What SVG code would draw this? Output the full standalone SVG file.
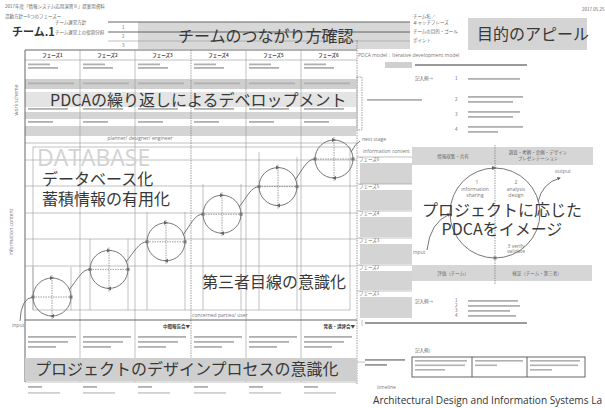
<svg xmlns="http://www.w3.org/2000/svg" width="605" height="408" viewBox="0 0 605 408">
<style>
.big{font-family:"Noto Sans CJK JP","Noto Sans",sans-serif;font-size:16px;fill:#383838}
.t{font-family:"Noto Sans CJK JP","Noto Sans",sans-serif;font-size:4.5px;fill:#666}
.tb{font-family:"Noto Sans CJK JP","Noto Sans",sans-serif;font-size:4.5px;font-weight:bold;fill:#444}
.en{font-family:"Open Sans","Liberation Sans",sans-serif;font-size:5px;fill:#777}
.ln{stroke:#999;stroke-width:0.6;fill:none}
.dk{stroke:#555;stroke-width:0.9;fill:none}
.dash{stroke:#777;stroke-width:0.7;stroke-dasharray:1.5 1;fill:none}
.bar{fill:#b0b0b0}
.band{fill:#d4d4d4}
.band2{fill:#e4e4e4}
.cv{stroke:#666;stroke-width:0.9;fill:none}
</style>
<defs>
<marker id="ah" markerWidth="4" markerHeight="4" refX="3" refY="2" orient="auto"><path d="M0,0 L4,2 L0,4z" fill="#666"/></marker>
<g id="pdca-s">
<circle r="19" class="cv"/>
<line x1="-19" y1="0" x2="19" y2="0" class="dash"/>
<line x1="0" y1="-22" x2="0" y2="22" class="dash"/>
<rect x="-20.5" y="-1.5" width="3" height="3" fill="#777"/>
<rect x="17.5" y="-1.5" width="3" height="3" fill="#777"/>
<path d="M-2,-21 L2,-19 L-2,-17z" fill="#666"/>
<path d="M2,17 L-2,19 L2,21z" fill="#666"/>
</g>
<g id="colbars">
<rect x="3" y="63.5" width="22" height="1.8" class="bar"/>
<rect x="3" y="67" width="30" height="1.8" class="bar"/>
<rect x="3" y="82.5" width="46" height="1.8" class="bar"/>
<rect x="3" y="108" width="40" height="1.8" class="bar"/>
<rect x="3" y="121" width="25" height="1.8" class="bar"/>
<rect x="3" y="336" width="48" height="1.8" class="bar"/>
<rect x="3" y="341" width="40" height="1.8" class="bar"/>
<rect x="3" y="346" width="28" height="1.8" class="bar"/>
<rect x="3" y="386" width="14" height="1.8" class="bar"/>
<rect x="3" y="392" width="32" height="1.8" fill="#d0d0d0"/>
</g>
</defs>
<rect width="605" height="408" fill="#fff"/>

<g id="header">
<text x="5" y="8" class="t">2017年度「情報システム応用演習Ⅱ」提案用資料</text>
<text x="5" y="18" class="t">活動方針ー6つのフェーズー</text>
<text x="582" y="11" class="t">2017.05.25</text>
<text x="12" y="36" style="font-family:'Noto Sans CJK JP',sans-serif;font-size:11px;font-weight:bold;fill:#333">チーム.1</text>
<text x="55" y="24" class="t">チーム運営方針</text>
<text x="55" y="34" class="t">チーム運営上の役割分担</text>
<rect x="138" y="22" width="272" height="27" fill="#d8d8d8"/>
<line x1="108" y1="22" x2="410" y2="22" class="dk"/>
<line x1="108" y1="32" x2="410" y2="32" class="dk"/>
<line x1="108" y1="41" x2="410" y2="41" class="ln"/>
<text x="122" y="29" class="t">1</text>
<text x="122" y="38" class="t">2</text>
<text x="122" y="47" class="t">3</text>
<text x="413" y="18" class="t">チーム名／</text>
<text x="413" y="24" class="t">キャッチフレーズ</text>
<text x="413" y="33" class="t">チームの目的・ゴール</text>
<text x="413" y="42" class="t">ポイント</text>
<text x="178" y="42" class="big">チームのつながり方確認</text>
</g>

<g id="goal">
<rect x="468" y="18" width="119" height="32" fill="#d4d4d4"/>
<text x="477" y="40" class="big">目的のアピール</text>
</g>

<g id="phase-table">
<rect x="25" y="79" width="331" height="10" fill="#cfcfcf"/>
<rect x="25" y="92" width="331" height="15" class="band2"/>
<rect x="25" y="112" width="331" height="7" class="band"/>
<rect x="25" y="126" width="331" height="10" class="band"/>
<line x1="25" y1="50" x2="357" y2="50" class="dk"/>
<line x1="25" y1="60" x2="357" y2="60" class="ln"/>
<line x1="25" y1="143" x2="357" y2="143" class="ln"/>
<line x1="25" y1="50" x2="25" y2="382" class="dk"/>
<line x1="80" y1="50" x2="80" y2="382" class="ln"/>
<line x1="135" y1="50" x2="135" y2="382" class="ln"/>
<line x1="191" y1="50" x2="191" y2="382" class="dash"/>
<line x1="246" y1="50" x2="246" y2="382" class="ln"/>
<line x1="301" y1="50" x2="301" y2="382" class="ln"/>
<line x1="357" y1="40" x2="357" y2="385" class="dash"/>
<text x="52.5" y="57" class="tb" text-anchor="middle">フェーズ1</text>
<text x="107.5" y="57" class="tb" text-anchor="middle">フェーズ2</text>
<text x="162.5" y="57" class="tb" text-anchor="middle">フェーズ3</text>
<text x="218.5" y="57" class="tb" text-anchor="middle">フェーズ4</text>
<text x="273.5" y="57" class="tb" text-anchor="middle">フェーズ5</text>
<text x="328.5" y="57" class="tb" text-anchor="middle">フェーズ6</text>
<use href="#colbars" x="25"/>
<use href="#colbars" x="80"/>
<use href="#colbars" x="135"/>
<use href="#colbars" x="191"/>
<use href="#colbars" x="246"/>
<use href="#colbars" x="301"/>
<text x="18" y="100" class="en" font-size="4.5" text-anchor="middle" transform="rotate(-90 18 100)">work scheme</text>
<text x="140" y="140" class="en" text-anchor="middle">planner/ designer/ engineer</text>
<text x="50" y="106" class="big" font-size="17">PDCAの繰り返しによるデベロップメント</text>
</g>

<g id="info-area">
<text x="13" y="232" class="en" font-size="4.5" text-anchor="middle" transform="rotate(-90 13 232)">information content</text>
<rect x="33" y="147" width="317" height="163" class="ln"/>
<line x1="25" y1="160" x2="357" y2="160" class="ln"/>
<line x1="25" y1="186" x2="357" y2="186" class="ln"/>
<line x1="25" y1="213" x2="357" y2="213" class="ln"/>
<line x1="25" y1="239" x2="357" y2="239" class="ln"/>
<line x1="25" y1="266" x2="357" y2="266" class="ln"/>
<text x="37" y="166" style="font-family:'Open Sans','Liberation Sans',sans-serif;font-size:23px;fill:#d2d2d2">DATABASE</text>
<text x="42" y="185" class="big">データベース化</text>
<text x="42" y="205" class="big">蓄積情報の有用化</text>
<text x="202" y="288" class="big">第三者目線の意識化</text>
<text x="192" y="317" class="en">concerned parties/ user</text>
<line x1="25" y1="320" x2="357" y2="320" class="dk"/>
</g>

<g id="pdca-steps">
<g id="step1"><line x1="33" y1="267" x2="33" y2="310" class="ln"/><line x1="71" y1="267" x2="71" y2="310" class="ln"/><use href="#pdca-s" x="52" y="297"/></g>
<g id="step2"><line x1="90" y1="239" x2="90" y2="310" class="ln"/><line x1="128" y1="239" x2="128" y2="310" class="ln"/><use href="#pdca-s" x="109" y="269.4"/></g>
<g id="step3"><line x1="147" y1="212" x2="147" y2="310" class="ln"/><line x1="185" y1="212" x2="185" y2="310" class="ln"/><use href="#pdca-s" x="166" y="241.8"/></g>
<g id="step4"><line x1="203" y1="184" x2="203" y2="310" class="ln"/><line x1="241" y1="184" x2="241" y2="310" class="ln"/><use href="#pdca-s" x="222" y="214.2"/></g>
<g id="step5"><line x1="259" y1="152" x2="259" y2="310" class="ln"/><line x1="297" y1="157" x2="297" y2="310" class="ln"/><use href="#pdca-s" x="278" y="186.6"/></g>
<g id="step6"><use href="#pdca-s" x="334" y="159"/></g>
</g>

<g id="connectors">
<path d="M20,321 Q21,298 33,297" class="cv"/>
<path d="M69,290 C77,280 82,269 90,269.4" class="cv"/>
<path d="M126,262 C134,252 139,242 147,241.8" class="cv"/>
<path d="M183,235 C191,224 195,214 203,214.2" class="cv"/>
<path d="M239,207 C247,197 251,187 259,186.6" class="cv"/>
<path d="M295,180 C303,169 307,159 315,159" class="cv"/>
<path d="M351,152 Q355,144 360,141" class="cv"/>
<path d="M427,250 Q430,222 450,214" class="cv" marker-end="url(#ah)"/>
<path d="M538,202 Q542,183 560,178" class="cv" marker-end="url(#ah)"/>
</g>

<g id="bottom">
<text x="12" y="327" class="en">input</text>
<text x="190" y="328" class="tb" text-anchor="end">中間報告会▼</text>
<text x="355" y="328" class="tb" text-anchor="end">発表・講評会▼</text>
<rect x="25" y="358" width="332" height="23" fill="#cfcfcf"/>
<text x="35" y="375" class="big">プロジェクトのデザインプロセスの意識化</text>
<line x1="25" y1="382" x2="357" y2="382" class="ln"/>
</g>

<g id="right-panel">
<text x="358" y="57" class="en" font-size="4.5">PDCA model：Iterative development model</text>
<rect x="385" y="62" width="27" height="6" fill="#cfcfcf"/>
<rect x="415" y="64" width="112" height="2" fill="#999"/>
<text x="415" y="80" class="t">記入例→</text>
<text x="455" y="80" class="t">1</text>
<rect x="468" y="78" width="52" height="1.8" class="bar"/>
<rect x="357" y="77" width="5" height="53" class="dash"/>
<rect x="367" y="99" width="55" height="1.8" class="bar"/>
<text x="455" y="101" class="t">2</text>
<rect x="468" y="96" width="55" height="1.8" class="bar"/>
<rect x="468" y="101" width="45" height="1.8" class="bar"/>
<text x="455" y="116" class="t">3</text>
<rect x="468" y="111" width="52" height="1.8" class="bar"/>
<rect x="468" y="116" width="45" height="1.8" class="bar"/>
<text x="455" y="131" class="t">4</text>
<rect x="468" y="126" width="55" height="1.8" class="bar"/>
<rect x="468" y="131" width="30" height="1.8" class="bar"/>
<text x="362" y="141" class="en" font-size="6">next stage</text>
<text x="363" y="153" class="en" font-size="4.5">information content</text>
<line x1="357" y1="157" x2="412" y2="157" class="ln"/>
<text x="359" y="161" class="t">フェーズ6</text>
<rect x="360" y="163" width="52" height="21" fill="#d4d4d4"/>
<line x1="357" y1="184" x2="412" y2="184" class="ln"/>
<text x="359" y="188" class="t">フェーズ5</text>
<rect x="360" y="190" width="52" height="20" fill="#d4d4d4"/>
<line x1="357" y1="211" x2="412" y2="211" class="ln"/>
<text x="359" y="215" class="t">フェーズ4</text>
<rect x="360" y="217" width="52" height="20" fill="#d4d4d4"/>
<line x1="357" y1="238" x2="412" y2="238" class="ln"/>
<text x="359" y="242" class="t">フェーズ3</text>
<rect x="360" y="244" width="52" height="20" fill="#d4d4d4"/>
<line x1="357" y1="265" x2="412" y2="265" class="ln"/>
<text x="359" y="269" class="t">フェーズ2</text>
<rect x="360" y="271" width="52" height="19" fill="#d4d4d4"/>
<line x1="357" y1="291" x2="412" y2="291" class="ln"/>
<text x="359" y="295" class="t">フェーズ1</text>
<rect x="360" y="297" width="52" height="21" fill="#d4d4d4"/>
<rect x="412" y="147" width="181" height="18" fill="#d6d6d6"/>
<text x="453" y="157.5" class="t" text-anchor="middle">情報収集・共有</text>
<text x="538" y="154" class="t" text-anchor="middle">調査・考察・企画・デザイン</text>
<text x="538" y="160" class="t" text-anchor="middle">プレゼンテーション</text>
<rect x="412" y="265" width="180" height="16" fill="#d6d6d6"/>
<text x="453" y="275" class="t" text-anchor="middle">評価（チーム）</text>
<text x="537" y="275" class="t" text-anchor="middle">検証（チーム・第三者）</text>
<line x1="495" y1="145" x2="495" y2="285" class="dash"/>
<text x="415" y="303" class="t">記入例→</text>
<text x="455" y="302" class="t">1</text>
<text x="455" y="307" class="t">2</text>
<text x="455" y="312" class="t">3</text>
<text x="455" y="317" class="t">4</text>
<rect x="468" y="300" width="50" height="1.8" class="bar"/>
<rect x="468" y="305" width="52" height="1.8" class="bar"/>
<rect x="468" y="310" width="42" height="1.8" class="bar"/>
<rect x="468" y="315" width="48" height="1.8" class="bar"/>
<line x1="362" y1="320" x2="362" y2="326" class="ln"/>
<rect x="365" y="322" width="162" height="2" fill="#999"/>
<text x="415" y="352" class="t">記入例）</text>
<line x1="357" y1="362" x2="365" y2="362" class="ln"/>
<rect x="365" y="359" width="40" height="1.8" fill="#999"/>
<rect x="365" y="364" width="22" height="1.8" fill="#999"/>
<rect x="412" y="357" width="173" height="20" class="dk"/>
<line x1="472" y1="357" x2="472" y2="377" class="dk"/>
<line x1="527" y1="357" x2="527" y2="377" class="dk"/>
<rect x="415" y="360" width="52" height="1.6" class="bar"/>
<rect x="415" y="364.5" width="50" height="1.6" class="bar"/>
<rect x="415" y="369" width="30" height="1.6" class="bar"/>
<rect x="475" y="360" width="48" height="1.6" class="bar"/>
<rect x="475" y="364.5" width="22" height="1.6" class="bar"/>
<rect x="530" y="360" width="50" height="1.6" class="bar"/>
<rect x="530" y="364.5" width="48" height="1.6" class="bar"/>
<rect x="530" y="369" width="22" height="1.6" class="bar"/>
<text x="377" y="389" class="en" font-size="4">timeline</text>
</g>

<g id="pdca-big">
<circle cx="495" cy="213" r="45" stroke="#777" stroke-width="1" fill="none"/>
<path d="M492,166 L497,168 L492,170z" fill="#666"/>
<rect x="493.5" y="256.5" width="3" height="3" fill="#777"/>
<text x="477" y="184" class="en" text-anchor="middle">1</text>
<text x="475" y="191" class="en" text-anchor="middle">information</text>
<text x="475" y="197" class="en" text-anchor="middle">sharing</text>
<text x="516" y="184" class="en" text-anchor="middle">2</text>
<text x="516" y="191" class="en" text-anchor="middle">analysis</text>
<text x="516" y="197" class="en" text-anchor="middle">design</text>
<text x="516" y="247.5" class="en" text-anchor="middle">3 verify</text>
<text x="516" y="253" class="en" text-anchor="middle">validate</text>
<text x="413" y="254" class="en">input</text>
<text x="555" y="173" class="en">output</text>
<text x="502" y="216" class="big" text-anchor="middle">プロジェクトに応じた</text>
<text x="502" y="235" class="big" text-anchor="middle">PDCAをイメージ</text>
</g>

<g id="footer">
<text x="373" y="404" style="font-family:'Open Sans','Liberation Sans',sans-serif;font-size:10.1px;fill:#333">Architectural Design and Information Systems La</text>
</g>
</svg>
